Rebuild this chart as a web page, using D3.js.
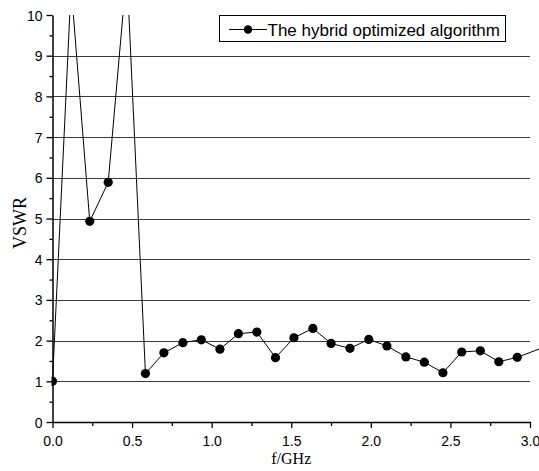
<!DOCTYPE html>
<html>
<head>
<meta charset="utf-8">
<script src="https://cdnjs.cloudflare.com/ajax/libs/d3/7.8.5/d3.min.js"></script>
<style>
  body { margin: 0; background: #fff; }
  svg { display: block; }
  .tick text { font-family: Arial, "Liberation Sans", sans-serif; font-size: 14px; fill: #000; }
</style>
</head>
<body>
<div id="chart"></div>
<script>
// values
const freq = [0, 0.117, 0.234, 0.350, 0.467, 0.584, 0.700, 0.819, 0.935, 1.052, 1.168, 1.284, 1.401,
  1.517, 1.636, 1.750, 1.869, 1.987, 2.101, 2.220, 2.336, 2.453, 2.571, 2.688, 2.804, 2.920, 3.150];
const vswr = [1.00, 10.7, 4.93, 5.89, 11.1, 1.19, 1.70, 1.95, 2.02, 1.79, 2.17, 2.21, 1.58,
  2.07, 2.30, 1.93, 1.81, 2.03, 1.87, 1.60, 1.47, 1.21, 1.72, 1.75, 1.48, 1.59, 1.93];
const xTicks = [0, 0.5, 1.0, 1.5, 2.0, 2.5, 3.0];
const yTicks = [0, 1, 2, 3, 4, 5, 6, 7, 8, 9, 10];
const seriesName = 'The hybrid optimized algorithm';

const width = 539, height = 471;

const svg = d3.select('#chart')
  .append('svg')
  .attr('width', width)
  .attr('height', height);

const x = d3.scaleLinear().domain([0, 3]).range([52.5, 530]);
const y = d3.scaleLinear().domain([0, 10]).range([422, 15]);

// grid lines
svg.append('g')
  .selectAll('line')
  .data(yTicks.filter(d => d > 0 && d < 10))
  .enter().append('line')
  .attr('x1', x(0)).attr('x2', x(3))
  .attr('y1', d => Math.round(y(d)) + 0.5).attr('y2', d => Math.round(y(d)) + 0.5)
  .style('stroke', '#3a3a3a')
  .style('stroke-width', 1);

// minor ticks
svg.append('g')
  .attr('transform', `translate(${x(0)},0)`)
  .call(d3.axisLeft(y).tickValues(d3.range(0.5, 10, 1)).tickSize(3).tickFormat(''))
  .call(g => g.select('.domain').remove())
  .call(g => g.selectAll('line').style('stroke-width', 1.3));

svg.append('g')
  .attr('transform', `translate(0,${y(0)})`)
  .call(d3.axisBottom(x).tickValues(d3.range(0.25, 3, 0.5)).tickSize(4).tickFormat(''))
  .call(g => g.select('.domain').remove())
  .call(g => g.selectAll('line').style('stroke-width', 1.3));

// major axes
svg.append('g')
  .attr('transform', `translate(${x(0)},0)`)
  .call(d3.axisLeft(y).tickValues(yTicks).tickSize(6).tickPadding(4).tickSizeOuter(0).tickFormat(d3.format('d')))
  .call(g => g.select('.domain').style('stroke-width', 1.5))
  .call(g => g.selectAll('line').style('stroke-width', 1.3))
  .call(g => g.selectAll('text').attr('dy', '0.36em'));

svg.append('g')
  .attr('transform', `translate(0,${y(0)})`)
  .call(d3.axisBottom(x).tickValues(xTicks).tickSize(6).tickPadding(8).tickSizeOuter(0).tickFormat(d3.format('.1f')))
  .call(g => g.select('.domain').style('stroke-width', 1.5))
  .call(g => g.selectAll('line').style('stroke-width', 1.3));

// data, clipped at the top and left of the plot
svg.append('clipPath').attr('id', 'clip')
  .append('rect')
  .attr('x', x(0) - 1).attr('y', y(10))
  .attr('width', width).attr('height', height);

const pts = freq.map((f, i) => [f, vswr[i]]);

const plot = svg.append('g').attr('clip-path', 'url(#clip)');

plot.append('path')
  .datum(pts)
  .attr('d', d3.line().x(d => x(d[0])).y(d => y(d[1])))
  .style('fill', 'none')
  .style('stroke', '#000')
  .style('stroke-width', 1);

plot.selectAll('circle')
  .data(pts)
  .enter().append('circle')
  .attr('cx', d => x(d[0]))
  .attr('cy', d => y(d[1]))
  .attr('r', 4.6)
  .style('fill', '#000');

// axis titles
svg.append('text')
  .attr('x', (x(0) + x(3)) / 2)
  .attr('y', 463.5)
  .attr('text-anchor', 'middle')
  .style('font-family', '"Liberation Serif", "Times New Roman", serif')
  .style('font-size', '16px')
  .text('f/GHz');

svg.append('text')
  .attr('transform', 'translate(26,223) rotate(-90)')
  .attr('text-anchor', 'middle')
  .style('font-family', '"Liberation Serif", "Times New Roman", serif')
  .style('font-size', '18px')
  .text('VSWR');

// legend
const legend = svg.append('g');
legend.append('rect')
  .attr('x', 219.5).attr('y', 15.5)
  .attr('width', 286).attr('height', 26)
  .style('fill', '#fff')
  .style('stroke', '#000')
  .style('stroke-width', 1);
legend.append('line')
  .attr('x1', 229).attr('x2', 267)
  .attr('y1', 29.5).attr('y2', 29.5)
  .style('stroke', '#000');
legend.append('circle')
  .attr('cx', 248).attr('cy', 29.5).attr('r', 4.2)
  .style('fill', '#000');
legend.append('text')
  .attr('x', 267.5).attr('y', 36)
  .style('font-family', 'Arial, "Liberation Sans", sans-serif')
  .style('font-size', '17px')
  .text(seriesName);
</script>
</body>
</html>
